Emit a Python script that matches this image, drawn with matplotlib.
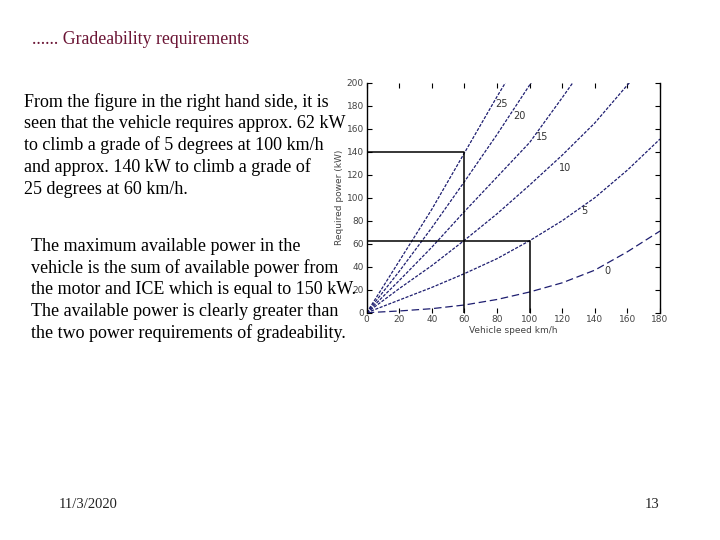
import matplotlib
matplotlib.use("Agg")
import matplotlib.pyplot as plt

# ---- data ----
grades = ["0", "5", "10", "15", "20", "25"]
speed_0 = [0, 20, 40, 60, 80, 100, 120, 140, 160, 180]
power_0 = [0, 1.5, 3.5, 6.7, 11.5, 18, 26, 37, 53, 71]
speed_5 = [0, 20, 40, 60, 80, 100, 120, 140, 160, 180]
power_5 = [0, 11, 22, 34, 47, 62.6, 80, 100, 124, 151]
speed_10 = [0, 20, 40, 60, 80, 100, 120, 140, 160, 162]
power_10 = [0, 21, 41, 63, 86, 111, 137, 165, 198, 201]
speed_15 = [0, 20, 40, 60, 80, 100, 120, 127]
power_15 = [0, 28, 57, 88, 118, 148, 187, 201]
speed_20 = [0, 20, 40, 60, 80, 100, 102]
power_20 = [0, 36, 74, 114, 155, 198, 202]
speed_25 = [0, 20, 40, 60, 80, 86]
power_25 = [0, 45, 90, 139, 188, 202]
label_x = [147.9, 133.6, 121.7, 107.4, 93.5, 82.8]
label_y = [36.3, 88.2, 125.8, 152.8, 170.8, 181.8]

ref_speed_a = [0, 60, 60]
ref_power_a = [140, 140, 0]
ref_speed_b = [0, 100, 100]
ref_power_b = [62, 62, 0]

x_ticks = [0, 20, 40, 60, 80, 100, 120, 140, 160, 180]
y_ticks = [0, 20, 40, 60, 80, 100, 120, 140, 160, 180, 200]

title_text = "...... Gradeability requirements"
para1 = ["From the figure in the right hand side, it is",
         "seen that the vehicle requires approx. 62 kW",
         "to climb a grade of 5 degrees at 100 km/h",
         "and approx. 140 kW to climb a grade of",
         "25 degrees at 60 km/h."]
para2 = ["The maximum available power in the",
         "vehicle is the sum of available power from",
         "the motor and ICE which is equal to 150 kW.",
         "The available power is clearly greater than",
         "the two power requirements of gradeability."]
footer_date = "11/3/2020"
footer_page = "13"

W, H = 720, 540
fig = plt.figure(figsize=(W / 100, H / 100), dpi=100)
fig.patch.set_facecolor("white")

def fx(px):
    return px / W

def fy(py):
    return 1 - py / H

serif = ["Liberation Serif", "DejaVu Serif"]

fig.text(fx(32), fy(40), title_text, family=serif, fontsize=12.8,
         color="#6b1535", va="center", ha="left")

for i, line in enumerate(para1):
    fig.text(fx(24), fy(101.7 + i * 21.9), line, family=serif, fontsize=13,
             color="black", va="center", ha="left")
for i, line in enumerate(para2):
    fig.text(fx(31), fy(246.7 + i * 21.65), line, family=serif, fontsize=13,
             color="black", va="center", ha="left")

fig.text(fx(59), fy(504), footer_date, family=serif, fontsize=10.5,
         color="#222222", va="center", ha="left")
fig.text(fx(659), fy(504), footer_page, family=serif, fontsize=10.5,
         color="#222222", va="center", ha="right")

# ---- chart ----
ax = fig.add_axes([fx(366.7), fy(312.7), (660 - 366.7) / W, (312.7 - 82.7) / H])
curve_color = "#1e1e70"
series = [(speed_0, power_0), (speed_5, power_5), (speed_10, power_10),
          (speed_15, power_15), (speed_20, power_20), (speed_25, power_25)]
for (sx, sy), g in zip(series, grades):
    dash = (6, 3) if g == "0" else (2.5, 1.2)
    ax.plot(sx, sy, color=curve_color, lw=0.9, linestyle=(0, dash), clip_on=True)

for g, lx, ly in zip(grades, label_x, label_y):
    ax.text(lx, ly, g, fontsize=7, color="#333333", ha="center", va="center")

ax.plot(ref_speed_a, ref_power_a, color="black", lw=1.1)
ax.plot(ref_speed_b, ref_power_b, color="black", lw=1.1)

ax.set_xlim(0, 180)
ax.set_ylim(0, 200)
ax.set_xticks(x_ticks)
ax.set_yticks(y_ticks)
ax.tick_params(direction="in", length=3.5, width=0.8, labelsize=6.5,
               labelcolor="#444444", top=True, right=True, pad=2)
for s in ["top", "bottom"]:
    ax.spines[s].set_visible(False)
for s in ["left", "right"]:
    ax.spines[s].set_linewidth(1.0)
ax.set_xlabel("Vehicle speed km/h", fontsize=6.5, color="#444444", labelpad=1)
ax.set_ylabel("Required power (kW)", fontsize=6.5, color="#444444", labelpad=2)
ax.set_facecolor("none")

fig.savefig("out.png", dpi=100, facecolor="white")
